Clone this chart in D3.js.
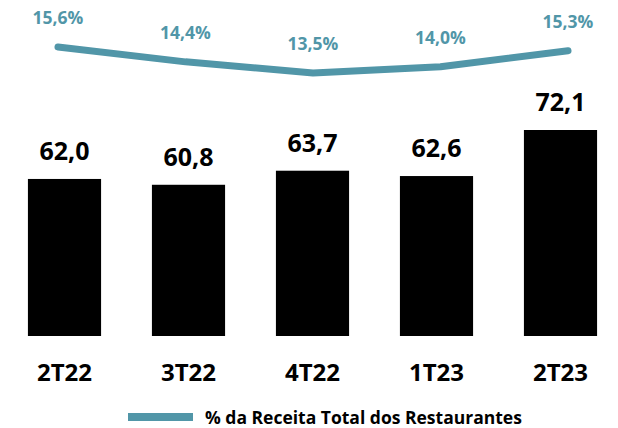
<!DOCTYPE html>
<html>
<head>
<meta charset="utf-8">
<script src="https://cdn.jsdelivr.net/npm/d3@7/dist/d3.min.js"></script>
<style>
  html, body { margin: 0; padding: 0; background: #fff; }
  svg { display: block; font-family: 'Open Sans', 'Lato', sans-serif; font-weight: 700; }
</style>
</head>
<body>
<svg id="chart" width="618" height="428"></svg>
<script>
const categories = ['2T22', '3T22', '4T22', '1T23', '2T23'];
const barValues = [62.0, 60.8, 63.7, 62.6, 72.1];
const pctValues = [15.6, 14.4, 13.5, 14.0, 15.3];
const legendLabel = '% da Receita Total dos Restaurantes';

const teal = '#5196a8';
const fmt = v => v.toFixed(1).replace('.', ',');

const svg = d3.select('#chart');

// bars
const x = d3.scaleBand()
  .domain(categories)
  .range([2.5, 622.5])
  .paddingInner(0.41)
  .paddingOuter(0.205);

const y = d3.scaleLinear()
  .domain([29.6, 72.1])
  .range([336, 130]);

svg.selectAll('.bar')
  .data(barValues)
  .enter().append('rect')
  .attr('class', 'bar')
  .attr('x', (d, i) => x(categories[i]))
  .attr('y', d => y(d))
  .attr('width', x.bandwidth())
  .attr('height', d => y.range()[0] - y(d))
  .attr('fill', '#000');

svg.selectAll('.bar-label')
  .data(barValues)
  .enter().append('text')
  .attr('class', 'bar-label')
  .attr('x', (d, i) => x(categories[i]) + x.bandwidth() / 2)
  .attr('y', d => y(d) - 19)
  .attr('text-anchor', 'middle')
  .attr('font-size', 25)
  .attr('fill', '#000')
  .text(fmt);

// category axis labels
svg.selectAll('.cat')
  .data(categories)
  .enter().append('text')
  .attr('class', 'cat')
  .attr('x', d => x(d) + x.bandwidth() / 2)
  .attr('y', 381)
  .attr('text-anchor', 'middle')
  .attr('font-size', 24)
  .attr('fill', '#000')
  .text(d => d);

// line (own axis)
const xl = d3.scalePoint()
  .domain(categories)
  .range([58, 568]);

const yl = d3.scaleLinear()
  .domain([13.5, 15.6])
  .range([73, 47]);

svg.append('path')
  .datum(pctValues)
  .attr('fill', 'none')
  .attr('stroke', teal)
  .attr('stroke-width', 7)
  .attr('stroke-linecap', 'round')
  .attr('stroke-linejoin', 'round')
  .attr('d', d3.line()
    .x((d, i) => xl(categories[i]))
    .y(d => yl(d)));

svg.selectAll('.pct-label')
  .data(pctValues)
  .enter().append('text')
  .attr('class', 'pct-label')
  .attr('x', (d, i) => xl(categories[i]))
  .attr('y', d => yl(d) - 23)
  .attr('text-anchor', 'middle')
  .attr('font-size', 17.5)
  .attr('fill', teal)
  .text(d => fmt(d) + '%');

// legend
const legend = svg.append('g').attr('transform', 'translate(128,417)');
legend.append('line')
  .attr('x1', 0).attr('x2', 65)
  .attr('y1', 0).attr('y2', 0)
  .attr('stroke', teal)
  .attr('stroke-width', 8);
legend.append('text')
  .attr('x', 77)
  .attr('y', 7)
  .attr('font-size', 17.5)
  .attr('fill', '#000')
  .text(legendLabel);
</script>
</body>
</html>
